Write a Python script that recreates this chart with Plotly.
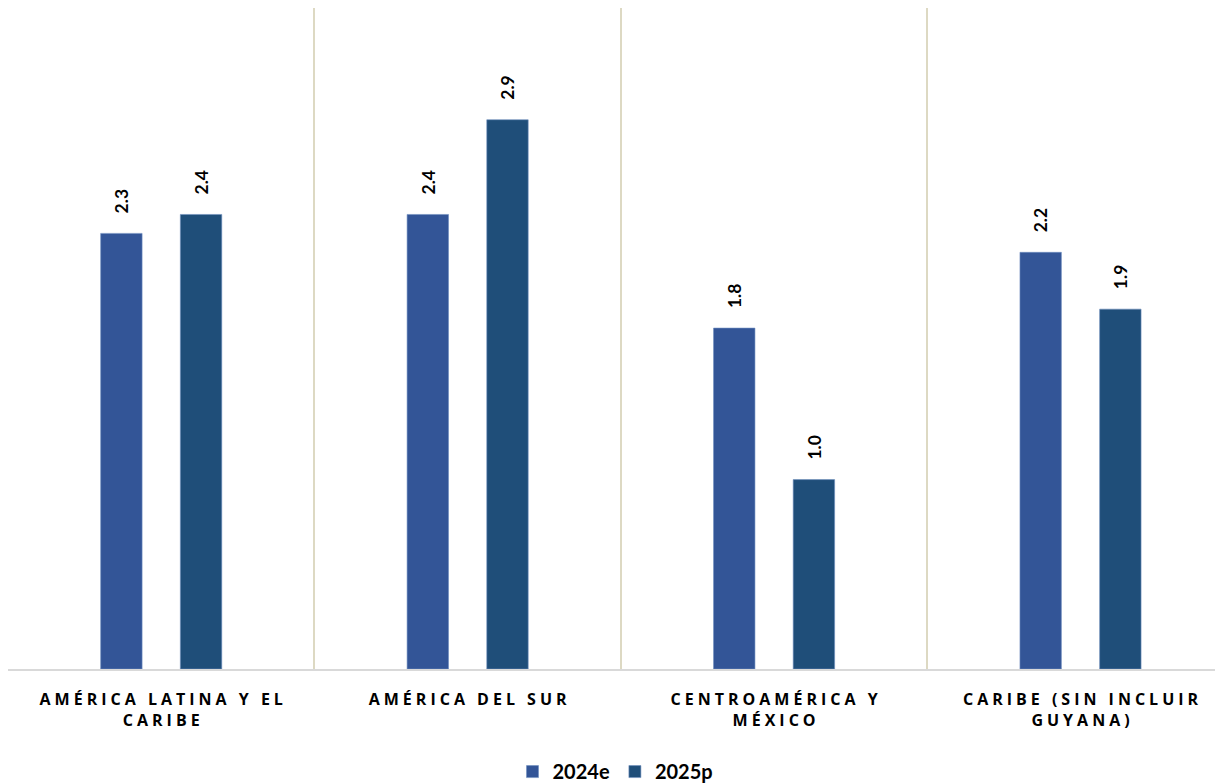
import plotly.graph_objects as go

SP = "\u2005"


def spaced(s):
    return "<br>".join(SP.join(line) for line in s.split("\n"))


categories = [
    "AMÉRICA LATINA Y EL\nCARIBE",
    "AMÉRICA DEL SUR",
    "CENTROAMÉRICA Y\nMÉXICO",
    "CARIBE (SIN INCLUIR\nGUYANA)",
]
series_names = ["2024e", "2025p"]
values_2024e = [2.3, 2.4, 1.8, 2.2]
values_2025p = [2.4, 2.9, 1.0, 1.9]
colors = ["#335597", "#1F4E79"]

x_labels = [spaced(c) for c in categories]

fig = go.Figure()
for name, vals, color in zip(series_names, [values_2024e, values_2025p], colors):
    fig.add_trace(
        go.Bar(
            name=name,
            x=x_labels,
            y=vals,
            marker=dict(color=color, line=dict(color="#6F8FC0", width=0.6)),
            texttemplate="\u00a0\u00a0\u00a0\u00a0%{y:.1f}",
            textposition="outside",
            textangle=-90,
            textfont=dict(family="Lato, Open Sans, sans-serif", size=18, color="#000000", weight="bold"),
            cliponaxis=False,
        )
    )

# page body has an 8px margin, so the figure is a bit smaller than the window
fig.update_layout(
    width=1215,
    height=776,
    barmode="group",
    bargap=0.48,
    bargroupgap=0.48,
    plot_bgcolor="white",
    paper_bgcolor="white",
    margin=dict(l=0, r=0, t=0, b=115, autoexpand=False),
    showlegend=True,
    legend=dict(
        orientation="h",
        x=0.5,
        xanchor="center",
        yref="container",
        y=0.016,
        yanchor="middle",
        font=dict(family="Lato, Open Sans, sans-serif", size=20, color="#000000", weight="bold"),
        itemwidth=30,
        traceorder="normal",
    ),
    xaxis=dict(
        range=[-0.5, 3.465],
        tickson="boundaries",
        showgrid=True,
        gridcolor="#DDD9C3",
        gridwidth=2,
        showline=True,
        linecolor="#D9D9D9",
        linewidth=2,
        ticks="",
        ticklabelstandoff=15,
        automargin=False,
        tickfont=dict(family="Open Sans, sans-serif", size=16, color="#000000", weight="bold"),
    ),
    yaxis=dict(
        range=[0, 3.49],
        showgrid=False,
        showticklabels=False,
        zeroline=False,
        showline=False,
    ),
)

fig.write_html("out.html")
